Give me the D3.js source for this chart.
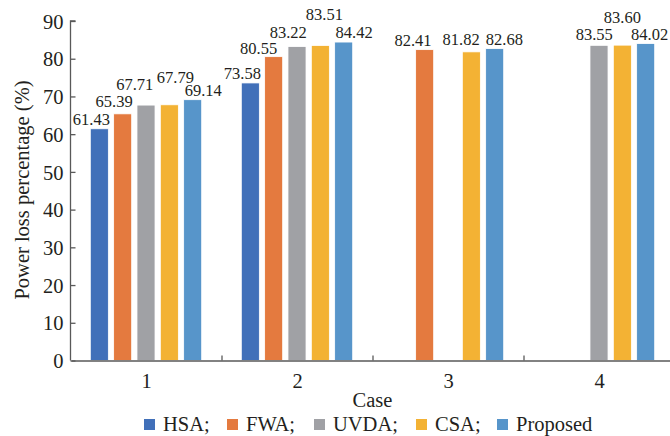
<!DOCTYPE html>
<html><head><meta charset="utf-8">
<script src="https://cdn.jsdelivr.net/npm/d3@7"></script>
<style>
html,body{margin:0;padding:0;background:#fff;}
svg{display:block;}
</style></head>
<body><svg id="c" width="670" height="436" font-family="'Times New Roman', Tinos, 'Liberation Serif', serif"></svg>
<script>
const categories = ["1", "2", "3", "4"];
const seriesNames = ["HSA", "FWA", "UVDA", "CSA", "Proposed"];
const HSA      = [61.43, 73.58, null, null];
const FWA      = [65.39, 80.55, 82.41, null];
const UVDA     = [67.71, 83.22, null, 83.55];
const CSA      = [67.79, 83.51, 81.82, 83.60];
const Proposed = [69.14, 84.42, 82.68, 84.02];
const yTicks = [0, 10, 20, 30, 40, 50, 60, 70, 80, 90];
const seriesValues = [HSA, FWA, UVDA, CSA, Proposed];

// styling / layout (not data)
const FONT = "'Times New Roman', Tinos, 'Liberation Serif', serif";
const colors = ["#4170B9", "#E47A3F", "#A0A1A5", "#F3B234", "#5795CA"];
// label offsets [dx, dy] per series per category
const labelOffsets = [
  [[-8, 0], [-8, 0], [0, 0], [0, 0]],
  [[-8.5, -3], [-15, 1], [-11.7, 0], [0, 0]],
  [[-11.3, -10.6], [-8.7, -5], [0, 0], [-4.7, -1.5]],
  [[6, -18], [4, -21], [-10.2, -2.4], [0, -18.4]],
  [[10.6, 0], [10.5, 0], [9.7, 0.5], [4, 0]]
];

const svg = d3.select("#c").style("font-family", FONT);
const axisColor = "#595959";
const textColor = "#231f20";

const x0 = d3.scaleBand().domain(categories).range([71, 675]).paddingInner(0).paddingOuter(0);
const x1 = d3.scaleBand().domain(seriesNames).range([19.3, 130.7]).paddingInner(0.227).paddingOuter(0);
const y = d3.scaleLinear().domain([0, 90]).range([360.5, 21]);

// bars
const data = [];
seriesNames.forEach((s, si) => {
  categories.forEach((c, ci) => {
    const v = seriesValues[si][ci];
    if (v !== null && v !== undefined) data.push({s, si, c, ci, v});
  });
});

svg.append("g").selectAll("rect").data(data).join("rect")
  .attr("x", d => x0(d.c) + x1(d.s))
  .attr("y", d => y(d.v))
  .attr("width", x1.bandwidth())
  .attr("height", d => y(0) - y(d.v))
  .attr("fill", d => colors[d.si])
  .attr("stroke", "#ffffff")
  .attr("stroke-width", 0.8);

// value labels
svg.append("g").selectAll("text").data(data).join("text")
  .attr("x", d => x0(d.c) + x1(d.s) + x1.bandwidth() / 2 + labelOffsets[d.si][d.ci][0])
  .attr("y", d => y(d.v) - 4 + labelOffsets[d.si][d.ci][1])
  .attr("text-anchor", "middle")
  .style("font-family", FONT)
  .style("font-size", "16.5px")
  .attr("fill", textColor)
  .text(d => d.v.toFixed(2));

// y axis
const yAxis = d3.axisRight(y).tickValues(yTicks).tickSize(5).tickFormat(d3.format("d"));
const gy = svg.append("g").attr("transform", "translate(70.5,0)").call(yAxis)
  .attr("font-family", null).attr("font-size", null);
gy.select(".domain").attr("stroke", axisColor).attr("stroke-width", 1.3).attr("d", `M5,${y(90)}H0V${y(0)}`);
gy.selectAll(".tick line").attr("stroke", axisColor).attr("stroke-width", 1.3);
gy.selectAll(".tick text").attr("x", -7).attr("text-anchor", "end").attr("dy", "0.35em").attr("fill", textColor)
  .style("font-family", FONT).style("font-size", "20.5px");

// x axis
const xAxis = d3.axisBottom(x0).tickSize(0).tickPadding(13);
const gx = svg.append("g").attr("transform", `translate(0,${y(0)})`).call(xAxis)
  .attr("font-family", null).attr("font-size", null);
gx.select(".domain").attr("stroke", axisColor).attr("stroke-width", 1.3);
gx.selectAll(".tick text").attr("fill", textColor).style("font-family", FONT).style("font-size", "20.5px");
// category separator ticks
svg.append("g").selectAll("line").data(categories.slice(1)).join("line")
  .attr("x1", d => x0(d)).attr("x2", d => x0(d))
  .attr("y1", y(0)).attr("y2", y(0) - 5)
  .attr("stroke", axisColor).attr("stroke-width", 1.3);

// axis titles
svg.append("text").attr("x", 372.5).attr("y", 407).attr("text-anchor", "middle")
  .style("font-family", FONT).style("font-size", "20.5px").attr("fill", textColor).text("Case");
svg.append("text").attr("transform", "translate(29,190) rotate(-90)").attr("text-anchor", "middle")
  .style("font-family", FONT).style("font-size", "20.5px").attr("fill", textColor).text("Power loss percentage (%)");

// legend
const legendX = [144, 227, 314, 416, 497];
const lg = svg.append("g").selectAll("g").data(seriesNames).join("g")
  .attr("transform", (d, i) => `translate(${legendX[i]},419)`);
lg.append("rect").attr("width", 11).attr("height", 11).attr("fill", (d, i) => colors[i]);
lg.append("text").attr("x", 19).attr("y", 11.5)
  .style("font-family", FONT).style("font-size", "20.5px").attr("fill", textColor)
  .text((d, i) => i < seriesNames.length - 1 ? d + ";" : d);
</script>
</body></html>
